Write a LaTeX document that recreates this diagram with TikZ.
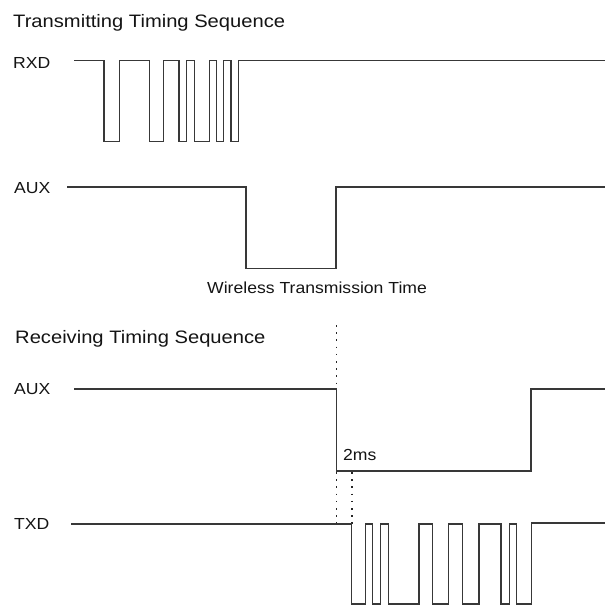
\documentclass[tikz,border=0pt]{standalone}
\usepackage{fontspec}
\setmainfont{Liberation Sans}
\usepackage{graphicx}
\newcommand{\ttlfont}{\fontsize{18}{21}\selectfont}
\newcommand{\lblfont}{\fontsize{16}{19}\selectfont}
\begin{document}
\begin{tikzpicture}[x=1pt,y=-1pt,
  wave/.style={line width=1.3pt,color=black!78,line join=miter},
  guide/.style={line width=1.2pt,color=black!85,dash pattern=on 1.6pt off 5.6pt},
  ttl/.style={anchor=base west,inner sep=0pt,text=black!92,font=\ttlfont},
  lbl/.style={anchor=base west,inner sep=0pt,text=black!92,font=\lblfont}]
\useasboundingbox[fill=white] (0,0) rectangle (605,606);
% titles and labels
\node[ttl] (t1) at (13,27.5) {\scalebox{1.12}[1]{Transmitting Timing Sequence}};
\node[lbl] (rxd) at (13,68) {\scalebox{1.1}[1]{RXD}};
\node[lbl] (aux1) at (14,193.5) {\scalebox{1.1}[1]{AUX}};
\node[lbl] (wtt) at (207,293) {\scalebox{1.1}[1]{Wireless Transmission Time}};
\node[ttl] (t2) at (15,343) {\scalebox{1.12}[1]{Receiving Timing Sequence}};
\node[lbl] (aux2) at (14,394.5) {\scalebox{1.1}[1]{AUX}};
\node[lbl] (ms) at (343,460) {\scalebox{1.1}[1]{2ms}};
\node[lbl] (txd) at (14,529) {\scalebox{1.1}[1]{TXD}};
% RXD waveform
\draw[wave] (74,60.5) -| (104,141.5) -| (119.3,60.5) -| (149.7,141.5) -| (163.3,60.5)
  -| (179,141.5) -| (186.7,60.5) -| (194.3,141.5) -| (209.3,60.5) -| (216.7,141.5)
  -| (223.3,60.5) -| (231,141.5) -| (238.7,60.5) -- (605,60.5);
% AUX transmit
\draw[wave] (67,187) -| (246,268.5) -| (336,187) -- (605,187);
% guide lines
\coordinate (g1a) at (336.5,325);
\coordinate (g1b) at (336.5,389);
\draw[guide] (g1a) -- (g1b);
\coordinate (g2a) at (336.5,472);
\coordinate (g2b) at (336.5,524);
\coordinate (g3a) at (352,472);
\coordinate (g3b) at (352,524);
\draw[guide] (g2a) -- (g2b);
\draw[guide] (g3a) -- (g3b);
% AUX receive
\draw[wave] (74,389) -| (336.5,471) -| (531,389) -- (605,389);
% TXD waveform
\draw[wave] (71,524) -| (351.7,604) -| (365.7,524) -| (372.7,604) -| (380.7,524)
  -| (388.3,604) -| (419,524) -| (432.7,604) -| (448.3,524) -| (462.7,604)
  -| (479,524) -| (501,604) -| (509.3,524) -| (516.7,604) -| (531.7,523) -- (605,523);
\end{tikzpicture}
\end{document}
